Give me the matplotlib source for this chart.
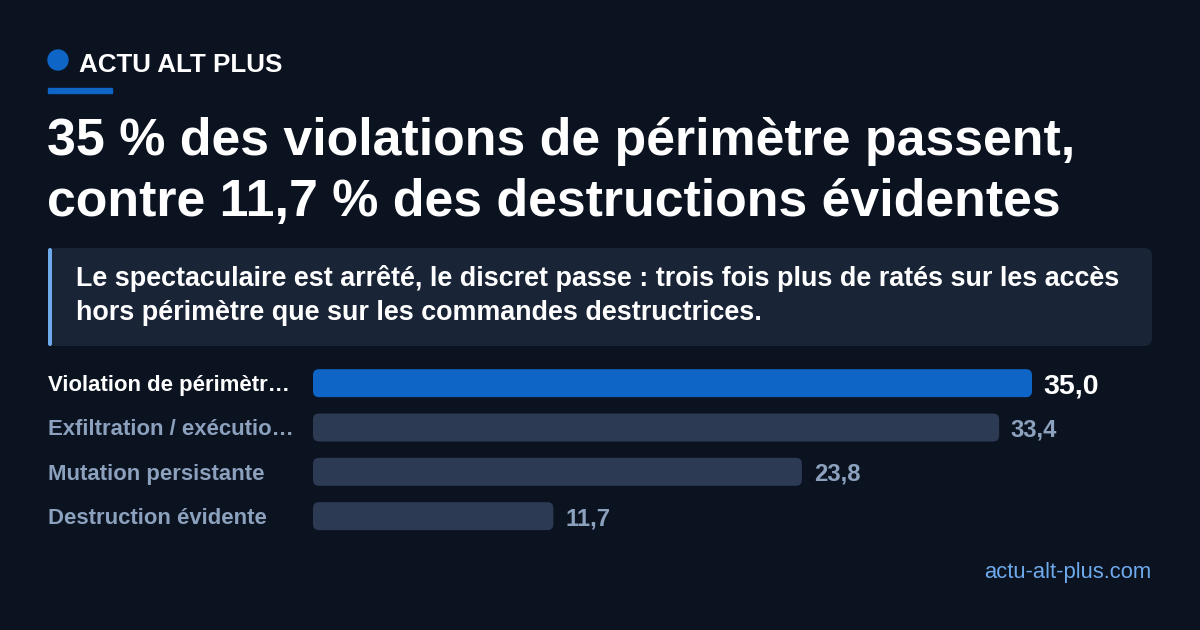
import matplotlib
matplotlib.use("Agg")
import matplotlib.pyplot as plt
import matplotlib.transforms as mtransforms
from matplotlib.patches import FancyBboxPatch, Circle, Rectangle

plt.rcParams['font.family'] = ['Liberation Sans', 'DejaVu Sans']

# data
categories = ["Violation de périmètr…", "Exfiltration / exécutio…",
              "Mutation persistante", "Destruction évidente"]
values = [35.0, 33.4, 23.8, 11.7]
value_labels = ["35,0", "33,4", "23,8", "11,7"]

brand = "ACTU ALT PLUS"
title_lines = ["35 % des violations de périmètre passent,",
               "contre 11,7 % des destructions évidentes"]
callout_lines = ["Le spectaculaire est arrêté, le discret passe : trois fois plus de ratés sur les accès",
                 "hors périmètre que sur les commandes destructrices."]
footer = "actu-alt-plus.com"

# colours
BG = "#0b1220"
BLUE = "#0f65c5"
GREY_BAR = "#2c3a53"
GREY_TXT = "#8ba1bd"
BOX = "#1a2437"
ACCENT = "#6eaaec"

W, H = 1200, 630
fig = plt.figure(figsize=(W / 100, H / 100), dpi=100, facecolor=BG)

# overlay in pixel coords for the decoration
ax0 = fig.add_axes([0, 0, 1, 1])
ax0.set_xlim(0, W)
ax0.set_ylim(H, 0)
ax0.axis("off")
ax0.set_facecolor(BG)

ax0.add_patch(Circle((58, 60), 10, color=BLUE))
ax0.text(79, 72, brand, color="white", fontsize=18.7, fontweight="bold", va="baseline")
ax0.add_patch(Rectangle((48, 88), 64, 5, color=BLUE))

for i, line in enumerate(title_lines):
    ax0.text(47, 155 + i * 61, line, color="white", fontsize=37.4, fontweight="bold", va="baseline")

ax0.add_patch(FancyBboxPatch((48, 248), 1104, 98, boxstyle="round,pad=0,rounding_size=8",
                             facecolor=BOX, edgecolor="none"))
ax0.add_patch(FancyBboxPatch((48, 248), 4, 98, boxstyle="round,pad=0,rounding_size=2",
                             facecolor=ACCENT, edgecolor="none"))
for i, line in enumerate(callout_lines):
    ax0.text(76, 286 + i * 34, line, color="white", fontsize=19.4, fontweight="bold", va="baseline")

ax0.text(1151, 578, footer, color=ACCENT, fontsize=15.8, ha="right", va="baseline")

# bar chart
top_px, step = 361, 44.33
n = len(categories)
ax = fig.add_axes([313 / W, 1 - (top_px + n * step) / H, (1032 - 313) / W, n * step / H])
ax.set_xlim(0, max(values))
ax.set_ylim(n - 0.5, -0.5)
ax.axis("off")

bar_h = 28 / step
colors = [BLUE] + [GREY_BAR] * (n - 1)
bars = ax.barh(range(n), values, height=bar_h, color=colors)

px_x = (1032 - 313) / max(values)
aspect = px_x / step
for b, c in zip(bars, colors):
    b.set_visible(False)
    ax.add_patch(FancyBboxPatch((b.get_x(), b.get_y()), b.get_width(), b.get_height(),
                                boxstyle="round,pad=0,rounding_size=%f" % (6 / px_x),
                                mutation_aspect=aspect, facecolor=c, edgecolor="none"))

lab_tr = mtransforms.blended_transform_factory(ax0.transData, ax.transData)
for i, (cat, v, vl) in enumerate(zip(categories, values, value_labels)):
    first = i == 0
    ax.text(48, i, cat, transform=lab_tr, color="white" if first else GREY_TXT,
            fontsize=15.9, fontweight="bold", va="center_baseline", ha="left")
    ax.annotate(vl, (v, i), xytext=(8.5, 0), textcoords="offset points",
                color="white" if first else GREY_TXT, fontsize=20.5 if first else 17.2,
                fontweight="bold", va="center_baseline", ha="left")

fig.savefig("out.png", dpi=100, facecolor=BG)
